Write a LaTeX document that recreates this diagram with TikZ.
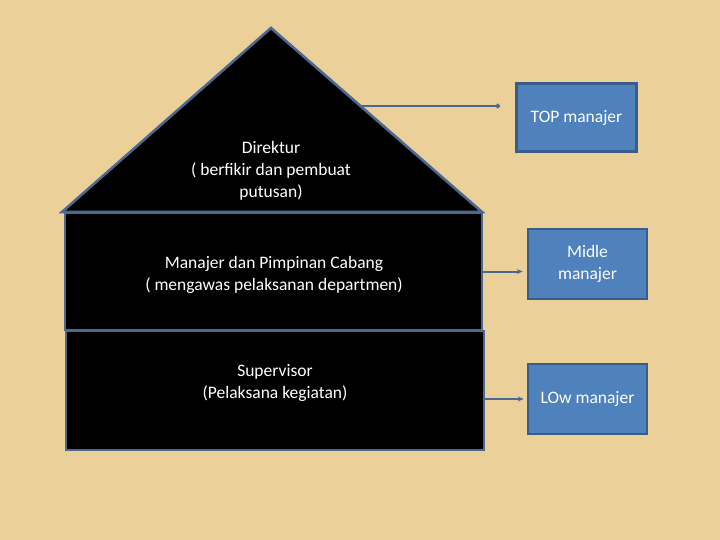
\documentclass[tikz,border=0pt]{standalone}
\usepackage{fontspec}
\setmainfont{Carlito}
\usetikzlibrary{arrows.meta}
\definecolor{bg}{HTML}{EBD09A}
\definecolor{edgec}{HTML}{4A6890}
\definecolor{boxfill}{HTML}{4F81BD}
\definecolor{boxedge}{HTML}{385D8A}
\begin{document}
\begin{tikzpicture}[x=1pt,y=-1pt,
  level/.style={draw=edgec, line width=2.6pt, fill=black, line join=miter},
  lbl/.style={text=white, align=center, font=\fontsize{17.5}{22}\selectfont, inner sep=0pt},
  mgr/.style={draw=boxedge, line width=2.6pt, fill=boxfill, text=white, align=center,
    font=\fontsize{17.5}{22}\selectfont, inner sep=0pt},
  link/.style={draw=edgec, line width=2pt}]
\useasboundingbox (0,0) rectangle (720,540);
\fill[bg] (0,0) rectangle (720,540);
% roof
\draw[level] (62,212) -- (271,28) -- (482,212) -- cycle;
% floors
\node[level, minimum width=417pt, minimum height=117pt] (mid) at (273.5,271.5) {};
\node[level, minimum width=418pt, minimum height=119pt] (bot) at (275,390.5) {};
% labels
\node[lbl] (dir) at (271,170.5) {Direktur\\( berfikir dan pembuat\\putusan)};
\node[lbl] (man) at (274,275) {Manajer dan Pimpinan Cabang\\( mengawas pelaksanan departmen)};
\node[lbl] (sup) at (275,382.5) {Supervisor\\(Pelaksana kegiatan)};
% manager boxes
\node[mgr, minimum width=120pt, minimum height=68pt] (topm) at (576.5,117.5) {\raisebox{-2pt}{TOP manajer}};
\node[mgr, minimum width=119pt, minimum height=70pt] (midm) at (587.5,264) {\raisebox{-2pt}{Midle}\\\raisebox{-2pt}{manajer}};
\node[mgr, minimum width=119pt, minimum height=70pt] (lowm) at (587.5,399) {\raisebox{-2pt}{LOw manajer}};
% connectors
\coordinate (tcon) at (360.4,106);
\coordinate (tdot) at (500,106);
\draw[link, -{Circle[length=4.5pt]}] (tcon) -- (tdot);
\draw[link, -{Stealth[length=6pt,width=5pt]}, shorten >=4pt] (mid.east) -- (midm.west |- mid.east);
\draw[link, -{Stealth[length=6pt,width=5pt]}, shorten >=3pt] (bot.east |- lowm.west) -- (lowm.west);
\end{tikzpicture}
\end{document}
